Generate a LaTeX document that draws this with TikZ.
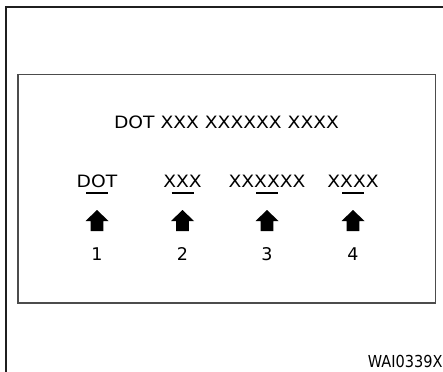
\documentclass[tikz,border=0pt]{standalone}
\usepackage{fontspec}
\setmainfont{DejaVu Sans}
\begin{document}
\begin{tikzpicture}[x=1pt,y=-1pt,
  txt/.style={font=\fontsize{17}{20}\selectfont, inner sep=0pt, anchor=base, xscale=1.1},
  numtxt/.style={font=\fontsize{17.5}{20}\selectfont, inner sep=0pt, anchor=base},
  frameline/.style={draw=black!88, line width=2pt},
  boxline/.style={draw=black!70, line width=1.6pt},
  uline/.style={line width=1.7pt, black},
  uparrow/.pic={\fill[black] (0,-10.5) -- (11.5,0.5) -- (6.3,0.5) -- (6.3,10.5) -- (-6.3,10.5) -- (-6.3,0.5) -- (-11.5,0.5) -- cycle;}
]
\useasboundingbox (0,0) rectangle (443,371);
% outer frame (left and top only)
\draw[frameline] (6,372) -- (6,7.3) -- (444,7.3);
% inner box
\draw[boxline] (18,74.5) rectangle (435.5,303);
% title
\node[txt] (title) at (226.5,129) {DOT XXX XXXXXX XXXX};
% words
\foreach \n/\x/\w in {1/97/DOT, 2/182.5/XXX, 3/267/XXXXXX, 4/353/XXXX}{
  \node[txt] (w\n) at (\x,187.3) {\w};
  \draw[uline] (\x-11,193.3) -- (\x+11,193.3);
  \pic at (\x,220.5) {uparrow};
  \node[numtxt] (n\n) at (\x,260) {\n};
}
% code
\node[font=\fontsize{16.5}{18}\selectfont, inner sep=0pt, anchor=base east, xscale=0.88] (code) at (442.7,367.7) {WAI0339X};
\end{tikzpicture}
\end{document}
